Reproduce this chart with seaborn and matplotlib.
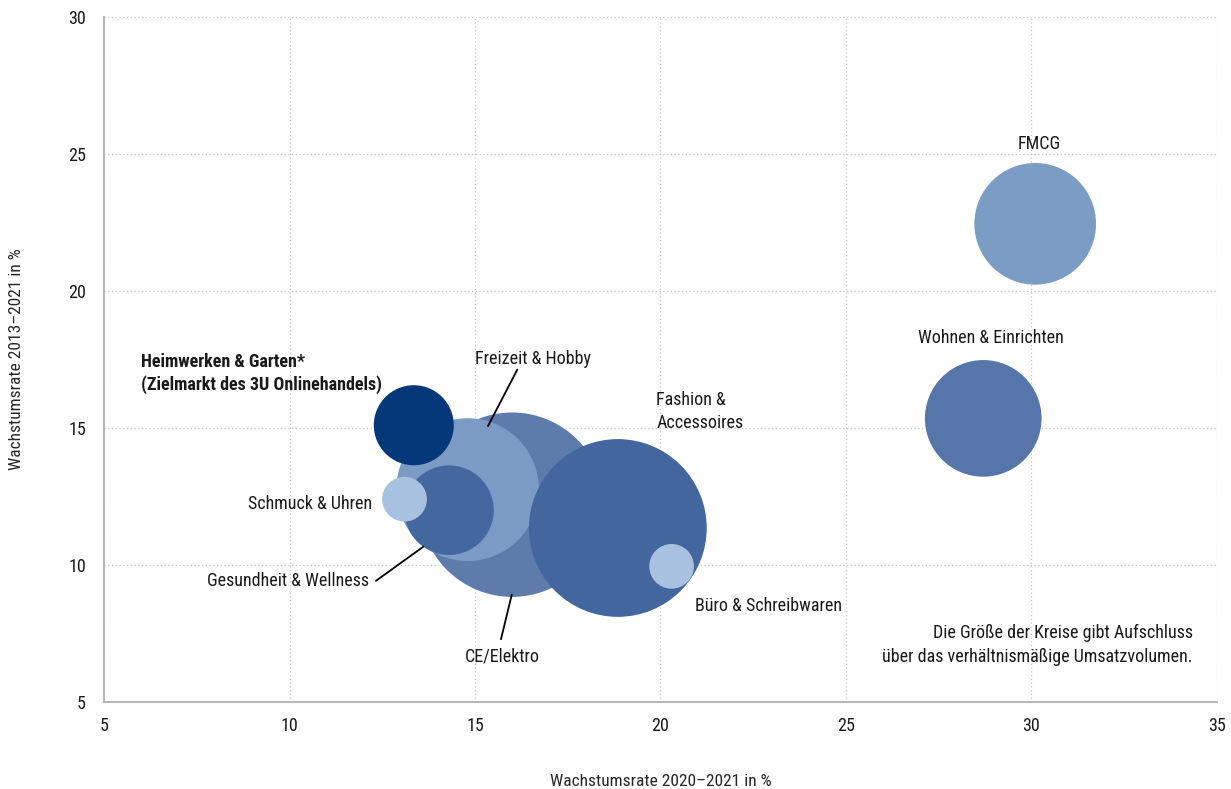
import pandas as pd
import matplotlib.pyplot as plt
import seaborn as sns
from matplotlib import font_manager

# === DATEN ===
# Reihenfolge = Zeichenreihenfolge (hinten -> vorne)
kategorien = [
    "CE/Elektro", "Freizeit & Hobby", "Gesundheit & Wellness", "Schmuck & Uhren",
    "Heimwerken & Garten", "Fashion & Accessoires", "Büro & Schreibwaren",
    "FMCG", "Wohnen & Einrichten",
]
wachstum_2020_2021 = [16.0, 14.8, 14.3, 13.1, 13.35, 18.85, 20.3, 30.1, 28.7]
wachstum_2013_2021 = [12.2, 12.75, 12.0, 12.4, 15.1, 11.35, 9.95, 22.45, 15.35]
umsatz = [8.5, 5.1, 2.0, 0.5, 1.6, 7.9, 0.5, 3.7, 3.4]  # relatives Umsatzvolumen

farben = {
    "CE/Elektro": "#5d7cac",
    "Freizeit & Hobby": "#7b9bc4",
    "Gesundheit & Wellness": "#44679f",
    "Schmuck & Uhren": "#a9c1e0",
    "Heimwerken & Garten": "#053878",
    "Fashion & Accessoires": "#43669f",
    "Büro & Schreibwaren": "#a9c1e0",
    "FMCG": "#7b9cc4",
    "Wohnen & Einrichten": "#5675a8",
}

x_ticks = [5, 10, 15, 20, 25, 30, 35]
y_ticks = [5, 10, 15, 20, 25, 30]

df = pd.DataFrame({
    "kategorie": kategorien,
    "x": wachstum_2020_2021,
    "y": wachstum_2013_2021,
    "umsatz": umsatz,
})

# === SCHRIFT ===
sns.set_style("white")
vorhanden = {f.name for f in font_manager.fontManager.ttflist}
schrift = "DejaVu Sans"
for kandidat in ["Roboto Condensed", "Liberation Sans Narrow", "Roboto"]:
    if kandidat in vorhanden:
        schrift = kandidat
        break
plt.rcParams["font.family"] = [schrift, "DejaVu Sans"]
plt.rcParams["text.color"] = "#1a1a1a"

# === PLOT ===
fig, ax = plt.subplots(figsize=(12.31, 7.89), dpi=100)
fig.subplots_adjust(left=0.0845, right=0.9886, top=0.9785, bottom=0.1103)

faktor = 2074  # pt^2 pro Umsatzeinheit
sns.scatterplot(
    data=df, x="x", y="y", hue="kategorie", palette=farben,
    size="umsatz", sizes=(faktor * min(umsatz), faktor * max(umsatz)),
    size_norm=(min(umsatz), max(umsatz)),
    linewidth=0, alpha=1, legend=False, ax=ax, zorder=3,
)

ax.set_xlim(5, 35)
ax.set_ylim(5, 30)
ax.set_xticks(x_ticks)
ax.set_yticks(y_ticks)
ax.set_axisbelow(True)
ax.grid(True, linestyle=(0, (1, 2)), color="#c4c4c4", linewidth=0.9)
for s in ["top", "right"]:
    ax.spines[s].set_visible(False)
for s in ["left", "bottom"]:
    ax.spines[s].set_color("#b8b8b8")
    ax.spines[s].set_linewidth(1.5)
ax.tick_params(axis="both", length=0, labelsize=13, colors="#1a1a1a")
ax.tick_params(axis="y", pad=13)
ax.tick_params(axis="x", pad=11)
ax.set_xlabel("Wachstumsrate 2020–2021 in %", fontsize=12.5, labelpad=28)
ax.set_ylabel("Wachstumsrate 2013–2021 in %", fontsize=12.5, labelpad=32)

# === BESCHRIFTUNGEN ===
fs = 13
ax.text(6.0, 17.0, "Heimwerken & Garten*\n(Zielmarkt des 3U Onlinehandels)",
        fontsize=fs, fontweight="bold", ha="left", va="center", linespacing=1.3)
ax.text(16.56, 17.5, "Freizeit & Hobby", fontsize=fs, ha="center", va="center")
ax.plot([16.14, 15.35], [17.13, 15.07], color="black", lw=1.3, zorder=4)
ax.text(19.89, 15.6, "Fashion &\nAccessoires", fontsize=fs, ha="left", va="center",
        linespacing=1.3)
ax.text(12.22, 12.24, "Schmuck & Uhren", fontsize=fs, ha="right", va="center")
ax.text(12.13, 9.42, "Gesundheit & Wellness", fontsize=fs, ha="right", va="center")
ax.plot([12.33, 13.61], [9.42, 10.67], color="black", lw=1.3, zorder=4)
ax.text(15.73, 6.67, "CE/Elektro", fontsize=fs, ha="center", va="center")
ax.plot([15.70, 15.99], [7.29, 8.91], color="black", lw=1.3, zorder=4)
ax.text(20.92, 8.51, "Büro & Schreibwaren", fontsize=fs, ha="left", va="center")
ax.text(30.22, 25.38, "FMCG", fontsize=fs, ha="center", va="center")
ax.text(28.9, 18.28, "Wohnen & Einrichten", fontsize=fs, ha="center", va="center")
ax.text(34.35, 7.08, "Die Größe der Kreise gibt Aufschluss\nüber das verhältnismäßige Umsatzvolumen.",
        fontsize=fs, ha="right", va="center", multialignment="right", linespacing=1.4)

fig.savefig("out.png", dpi=100)
